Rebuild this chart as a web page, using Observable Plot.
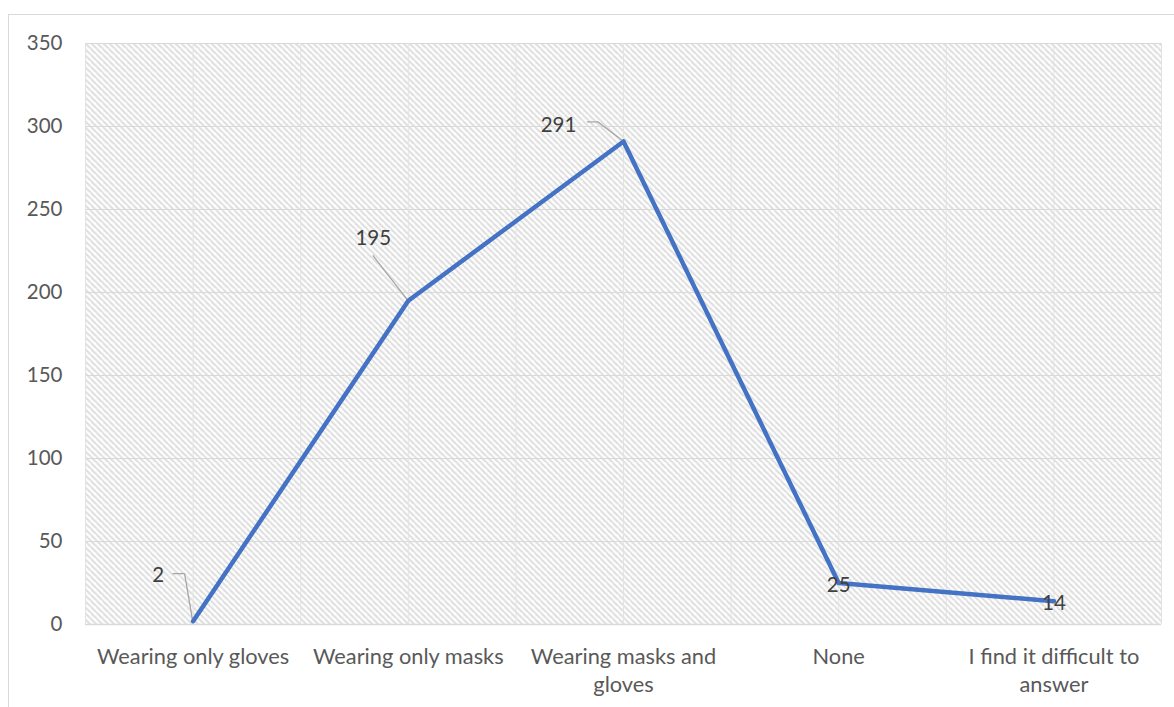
<!DOCTYPE html>
<html>
<head>
<meta charset="utf-8">
<script src="https://cdn.jsdelivr.net/npm/d3@7"></script>
<script src="https://cdn.jsdelivr.net/npm/@observablehq/plot@0.6"></script>
<style>
  html, body { margin: 0; padding: 0; background: #ffffff; }
  #chart { position: relative; width: 1174px; height: 707px; overflow: hidden; }
  #chart .border { position: absolute; left: 8px; top: 14px; right: -2px; bottom: -2px; border: 1px solid #d9d9d9; }
</style>
</head>
<body>
<div id="chart"><div class="border"></div></div>
<script>
// Survey answers: protective measures people report using
const categories = [
  "Wearing only gloves",
  "Wearing only masks",
  "Wearing masks and gloves",
  "None",
  "I find it difficult to answer"
];
const tickLabels = [
  "Wearing only gloves",
  "Wearing only masks",
  "Wearing masks and\ngloves",
  "None",
  "I find it difficult to\nanswer"
];
const values = [2, 195, 291, 25, 14];
const yTicks = [0, 50, 100, 150, 200, 250, 300, 350];

const rows = categories.map((c, i) => ({i, category: c, label: tickLabels[i], value: values[i]}));

// Placement of value labels (pixel offsets from the point) and their leader lines
const labelPlacement = [
  {dx: -35, dy: -46, leader: [[-20, -47], [-8, -47]]},
  {dx: -35, dy: -62, leader: [[-35, -45]]},
  {dx: -65, dy: -16, leader: [[-36, -19], [-25, -19]]},
  {dx: 0, dy: 2, leader: null},
  {dx: 0, dy: 2, leader: null}
];

const font = "Lato, 'Noto Sans', sans-serif";
const textColor = "#595959";
const gridTicksX = d3.range(0, 11).map(k => -0.5 + k * 0.5);

function leaderLines(index, scales) {
  const g = d3.create("svg:g")
    .attr("fill", "none")
    .attr("stroke", "#a6a6a6")
    .attr("stroke-width", 1.3);
  rows.forEach((r, k) => {
    const p = labelPlacement[k];
    if (!p.leader) return;
    const px = scales.x(r.i), py = scales.y(r.value);
    const pts = p.leader.map(([dx, dy]) => [px + dx, py + dy]).concat([[px, py]]);
    g.append("path").attr("d", d3.line()(pts));
  });
  return g.node();
}

const plot = Plot.plot({
  width: 1174,
  height: 707,
  marginLeft: 85,
  marginRight: 13,
  marginTop: 43,
  marginBottom: 83,
  style: {background: "transparent", fontFamily: font, color: textColor},
  x: {type: "linear", domain: [-0.5, 4.5], axis: null},
  y: {domain: [0, 350], axis: null},
  marks: [
    Plot.frame({fill: "url(#hatch)", stroke: null}),
    Plot.ruleY(yTicks, {stroke: "#d9d9d9", strokeWidth: 1, strokeOpacity: 1}),
    Plot.ruleX(gridTicksX, {stroke: "#e3e3e3", strokeWidth: 1, strokeOpacity: 1}),
    Plot.ruleY([0], {stroke: "#d9d9d9", strokeWidth: 1.3, strokeOpacity: 1}),
    // y tick labels
    Plot.text(yTicks, {x: -0.5, y: d => d, text: d => String(d), dx: -23, textAnchor: "end", fontSize: 20.5, fill: textColor}),
    // category labels
    Plot.text(rows, {x: "i", y: 0, text: "label", dy: 19, lineAnchor: "top", lineHeight: 1.3, fontSize: 21.8, fill: textColor}),
    leaderLines,
    Plot.line(rows, {x: "i", y: "value", stroke: "#4472c4", strokeWidth: 4.5, strokeLinejoin: "round", strokeLinecap: "round"}),
    // value labels
    ...rows.map((r, k) => Plot.text([r], {
      x: "i", y: "value", text: d => String(d.value),
      dx: labelPlacement[k].dx, dy: labelPlacement[k].dy,
      fontSize: 20.5, fill: "#404040"
    }))
  ]
});

// diagonal hatch used to fill the plotting area
const svg = d3.select(plot);
const pat = svg.insert("defs", ":first-child")
  .append("pattern")
  .attr("id", "hatch")
  .attr("patternUnits", "userSpaceOnUse")
  .attr("width", 6).attr("height", 6);
pat.append("rect").attr("width", 6).attr("height", 6).attr("fill", "#ffffff");
pat.append("path")
  .attr("d", "M-1,-1L7,7M-4,2L2,8M4,-4L10,2")
  .attr("stroke", "#d6d6d6")
  .attr("stroke-width", 1.6);

plot.style.position = "absolute";
plot.style.left = "0px";
plot.style.top = "0px";
document.getElementById("chart").appendChild(plot);
</script>
</body>
</html>
